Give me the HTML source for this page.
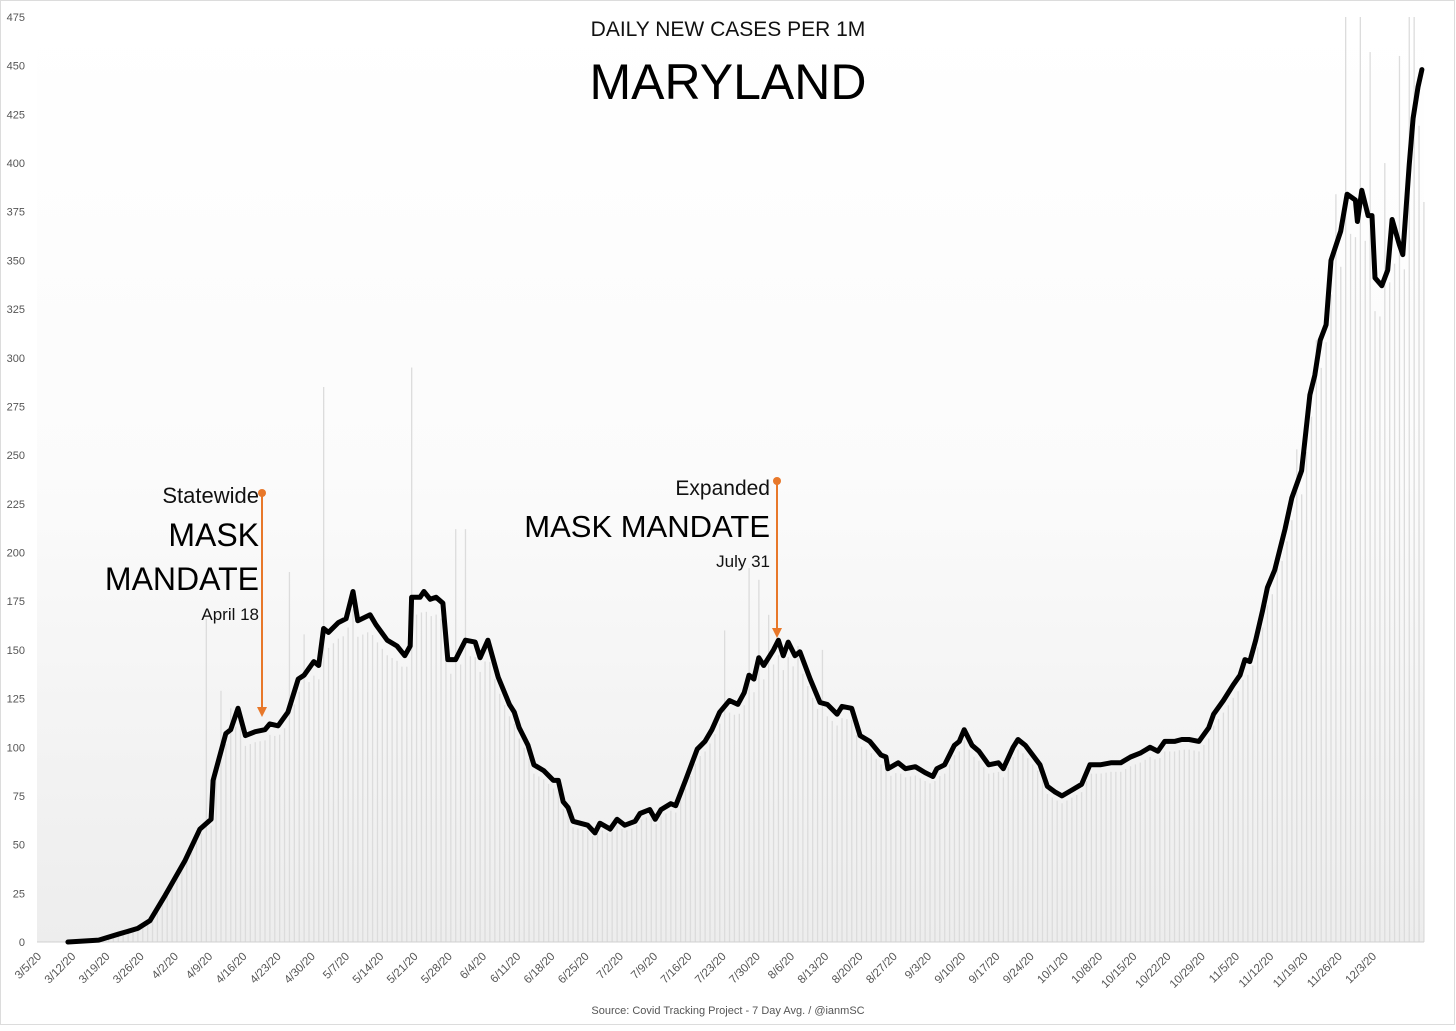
<!DOCTYPE html>
<html><head><meta charset="utf-8">
<style>
html,body{margin:0;padding:0;background:#fff;}
body{width:1456px;height:1026px;overflow:hidden;font-family:"Liberation Sans",sans-serif;}
svg text{font-family:"Liberation Sans",sans-serif;}
</style></head>
<body>
<svg id="chart" width="1456" height="1026" viewBox="0 0 1456 1026">
<defs>
<linearGradient id="bg" x1="0" y1="0" x2="0" y2="1">
<stop offset="0" stop-color="#ffffff"/><stop offset="0.5" stop-color="#fbfbfb"/><stop offset="1" stop-color="#ededed"/>
</linearGradient>
</defs>
<rect x="0.5" y="0.5" width="1454" height="1024" fill="#fff" stroke="#dcdcdc"/>
<rect x="37" y="17" width="1387" height="925" fill="url(#bg)"/>
<g id="bars"></g>
<g id="yticks"></g>
<g id="xticks"></g>
<line x1="37" y1="942" x2="1424" y2="942" stroke="#d0d0d0" stroke-width="1"/>
<path id="line" fill="none" stroke="#000" stroke-width="5" stroke-linejoin="round" stroke-linecap="round"/>
<text x="728" y="36" text-anchor="middle" font-size="21" fill="#111">DAILY NEW CASES PER 1M</text>
<text x="728" y="99" text-anchor="middle" font-size="50" fill="#000">MARYLAND</text>
<g>
<text x="259" y="503" text-anchor="end" font-size="22" fill="#111">Statewide</text>
<text x="259" y="546" text-anchor="end" font-size="32" fill="#000">MASK</text>
<text x="259" y="590" text-anchor="end" font-size="32" fill="#000">MANDATE</text>
<text x="259" y="620" text-anchor="end" font-size="17" fill="#111">April 18</text>
<line x1="262" y1="493" x2="262" y2="710" stroke="#e8782a" stroke-width="2"/>
<circle cx="262" cy="493" r="4" fill="#e8782a"/>
<path d="M257,707 L262,717 L267,707 Z" fill="#e8782a"/>
</g>
<g>
<text x="770" y="495" text-anchor="end" font-size="21" fill="#111">Expanded</text>
<text x="770" y="537" text-anchor="end" font-size="31" fill="#000">MASK MANDATE</text>
<text x="770" y="567" text-anchor="end" font-size="17" fill="#111">July 31</text>
<line x1="777" y1="481" x2="777" y2="630" stroke="#e8782a" stroke-width="2"/>
<circle cx="777" cy="481" r="4" fill="#e8782a"/>
<path d="M772,628 L777,638 L782,628 Z" fill="#e8782a"/>
</g>
<text x="728" y="1014" text-anchor="middle" font-size="11" fill="#555">Source: Covid Tracking Project - 7 Day Avg. / @ianmSC</text>
</svg>
<script>
// data: day index since 3/5/20 and 7-day average cases per 1M
const lineDays = [5.7,12,16,20,22.5,25.6,29.7,32.7,35,35.4,38,39,40.5,42,44,46,47,48.7,50.7,52.8,54,56,57,58,59,61,62.6,64,65,67.5,68.7,71,73,74.6,75.7,76,77.7,78.5,79.8,81,82.4,83.4,85,87,89,90,91.6,93.7,96,97,98,99.8,101,103,105,106,107,108,109,112,113.5,114.5,116.6,118,119.6,121.7,122.7,124.7,125.8,127,129,130,132,134.4,136,137.4,139,141,142.7,144,145,146,147,148,150,151,152,153,154.4,155.4,157.5,159.5,161,163,164,166,167.7,169.7,172,173,173.4,175.5,177,179,181,182.6,183.4,185,187,188,189,190.6,192,194,196,197,199,200,201.5,204.5,206,207.6,209,211,213,214.7,216.8,219,221,223,225,227,228.6,230,232,233.5,235,237,239,240,242,244,245.4,246.4,247.4,248.6,250,251,252.5,254.6,256,258,259.7,260.7,261.8,263,264,266,267.3,269,269.4,270.3,271.6,272.4,273,274.4,275.6,276.5,278,278.7,280,280.8,281.8,282.6];
const lineValues = [0,1,4,7,11,24,42,58,63,83,107,109,120,106,108,109,112,111,118,135,137,144,142,161,159,164,166,180,165,168,163,155,152,147,152,177,177,180,176,177,174,145,145,155,154,146,155,136,122,118,110,101,91,88,83,83,72,69,62,60,56,61,58,63,60,62,66,68,63,68,71,70,83,99,103,109,118,124,122,128,137,135,146,142,150,155,147,154,147,149,135,123,122,117,121,120,106,103,96,95,89,92,89,90,87,85,89,91,101,103,109,101,98,91,92,89,100,104,101,91,80,77,75,78,81,91,91,92,92,95,97,100,98,103,103,104,104,103,110,117,124,132,137,145,144,155,170,182,191,212,228,242,281,291,309,317,350,365,384,381,370,386,373,373,341,337,345,371,358,353,399,423,439,448];
// notable daily spikes (day index, value)
const spikeDays = [34,37,39,51,54,58,76,85,87,140,145,147,149,155,160,253,257,261,263,265,267,270,272,275,278,280,281,283];
const spikeValues = [166,129,120,190,158,285,295,212,212,160,192,186,168,152,150,200,253,309,308,384,475,475,457,400,455,475,475,380];
const yTicks = [0,25,50,75,100,125,150,175,200,225,250,275,300,325,350,375,400,425,450,475];
const xLabels = ["3/5/20","3/12/20","3/19/20","3/26/20","4/2/20","4/9/20","4/16/20","4/23/20","4/30/20","5/7/20","5/14/20","5/21/20","5/28/20","6/4/20","6/11/20","6/18/20","6/25/20","7/2/20","7/9/20","7/16/20","7/23/20","7/30/20","8/6/20","8/13/20","8/20/20","8/27/20","9/3/20","9/10/20","9/17/20","9/24/20","10/1/20","10/8/20","10/15/20","10/22/20","10/29/20","11/5/20","11/12/20","11/19/20","11/26/20","12/3/20"];

const NS = "http://www.w3.org/2000/svg";
const xs = d => 40 + d * 4.89;
const ys = v => 942 - v * (925 / 475);

function interp(d){
  if (d < lineDays[0]) return 0;
  for (let i = 1; i < lineDays.length; i++) {
    if (d <= lineDays[i]) {
      const t = (d - lineDays[i-1]) / (lineDays[i] - lineDays[i-1]);
      return lineValues[i-1] + t * (lineValues[i] - lineValues[i-1]);
    }
  }
  return lineValues[lineValues.length-1];
}

const barsG = document.getElementById('bars');
for (let d = 10; d <= 283; d++) {
  let v = interp(d) * 0.95;
  const si = spikeDays.indexOf(d);
  if (si >= 0) v = spikeValues[si];
  const r = document.createElementNS(NS, 'rect');
  r.setAttribute('x', xs(d) - 0.6);
  r.setAttribute('y', ys(v));
  r.setAttribute('width', 1.3);
  r.setAttribute('height', 942 - ys(v));
  r.setAttribute('fill', '#dcdcdc');
  
  
  barsG.appendChild(r);
}

const yg = document.getElementById('yticks');
yTicks.forEach(v => {
  const t = document.createElementNS(NS, 'text');
  t.setAttribute('x', 25);
  t.setAttribute('y', ys(v) + 4);
  t.setAttribute('text-anchor', 'end');
  t.setAttribute('font-size', '11');
  t.setAttribute('fill', '#555');
  t.textContent = v;
  
  
  yg.appendChild(t);
});

const xg = document.getElementById('xticks');
xLabels.forEach((lab, i) => {
  const x = xs(i * 7) + 2;
  const t = document.createElementNS(NS, 'text');
  t.setAttribute('x', x);
  t.setAttribute('y', 957);
  t.setAttribute('text-anchor', 'end');
  t.setAttribute('font-size', '11.5');
  t.setAttribute('fill', '#555');
  t.setAttribute('transform', 'rotate(-45 ' + x + ' 957)');
  t.textContent = lab;
  
  
  xg.appendChild(t);
});

let dpath = '';
lineDays.forEach((d, i) => {
  dpath += (i ? 'L' : 'M') + xs(d).toFixed(1) + ',' + ys(lineValues[i]).toFixed(1);
});
document.getElementById('line').setAttribute('d', dpath);
</script>
</body></html>
